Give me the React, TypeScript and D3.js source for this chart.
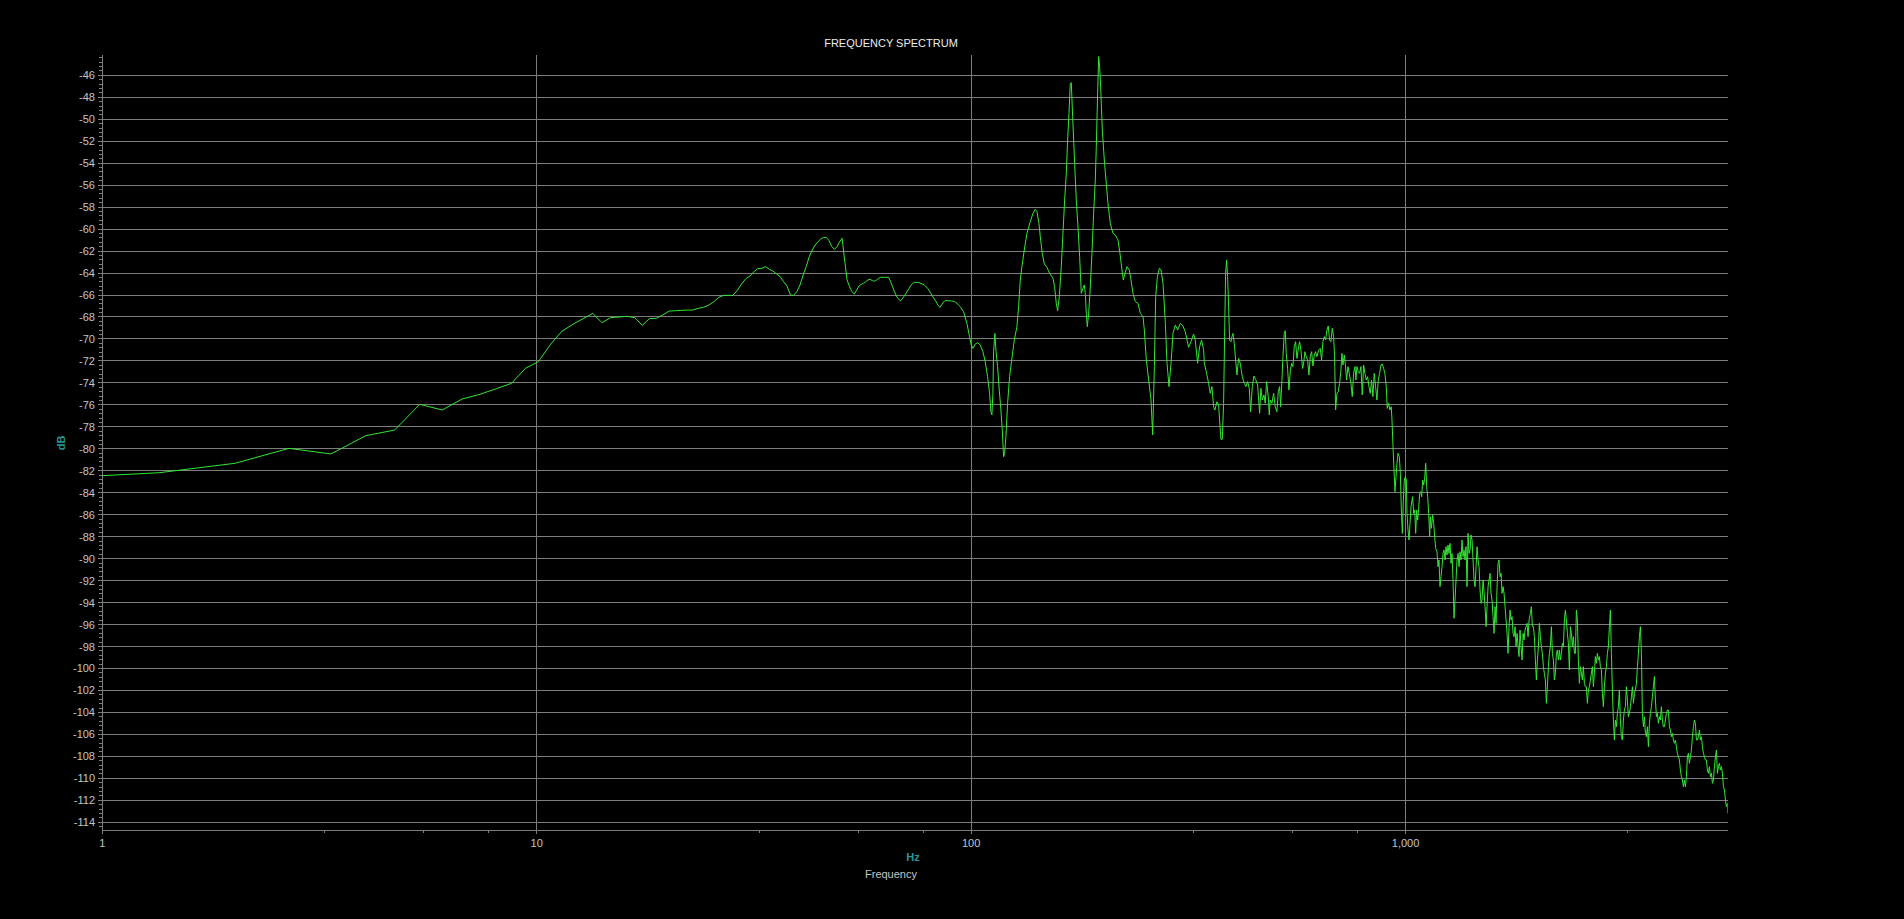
import React from "react";
import * as d3 from "d3";

// ---- Spectrum data (Hz, dB) ----
const lowHz = [
  0.67, 1.35, 2.02, 2.69, 3.36, 4.04, 4.71, 5.38, 6.06, 6.73,
  7.4, 8.07, 8.75, 9.42, 10.09, 10.77, 11.44, 12.11, 12.79, 13.46,
  14.13, 14.8, 15.48, 16.15, 16.82, 17.5, 18.17, 18.84, 19.51, 20.19,
  20.86, 21.53, 22.21, 22.88, 23.55, 24.22, 24.9, 25.57, 26.24, 26.92,
  27.59, 28.26, 28.93, 29.61, 30.28, 30.95, 31.63, 32.3, 32.97, 33.65,
  34.32, 34.99, 35.66, 36.34, 37.01, 37.68, 38.36, 39.03, 39.7, 40.37,
  41.05, 41.72, 42.39, 43.07, 43.74, 44.41, 45.08, 45.76, 46.43, 47.1,
  47.78, 48.45, 49.12, 49.79, 50.47, 51.14, 51.81, 52.49, 53.16, 53.83,
  54.5, 55.18, 55.85, 56.52, 57.2, 57.87, 58.54, 59.22, 59.89, 60.56,
  61.23, 61.91, 63.25, 64.6, 65.27, 65.94, 66.62, 67.29, 67.96, 68.64,
  69.31, 69.98, 70.65, 71.33, 72.0, 72.67, 73.35, 74.02, 75.36, 76.71,
  78.06, 79.4, 80.08, 80.75, 81.42, 82.09, 82.77, 83.44, 84.11, 84.79,
  85.46, 86.13, 86.8, 87.48, 88.82, 90.17, 91.51, 92.86, 93.53,
];
const lowDb = [
  -82.8, -82.18, -81.32, -79.96, -80.47, -78.81, -78.29, -75.95, -76.47, -75.47,
  -75.04, -74.53, -74.04, -72.67, -72.07, -70.46, -69.28, -68.67, -68.15, -67.67,
  -68.52, -68.06, -68.0, -67.94, -68.06, -68.76, -68.15, -68.12, -67.82, -67.46,
  -67.43, -67.4, -67.37, -67.37, -67.21, -67.12, -66.91, -66.61, -66.21, -66.03,
  -66.03, -66.03, -65.61, -65.0, -64.52, -64.27, -63.88, -63.6, -63.57, -63.42,
  -63.66, -63.82, -64.09, -64.33, -64.79, -65.18, -66.0, -66.03, -65.7, -65.09,
  -64.18, -63.42, -62.51, -61.9, -61.45, -61.15, -60.9, -60.75, -60.75, -61.06,
  -61.6, -61.84, -61.6, -61.15, -60.84, -62.81, -64.63, -65.24, -65.7, -65.91,
  -65.55, -65.18, -65.03, -64.94, -64.79, -64.63, -64.57, -64.69, -64.75, -64.63,
  -64.48, -64.39, -64.39, -64.39, -64.79, -65.24, -65.7, -66.09, -66.33, -66.52,
  -66.39, -66.15, -65.91, -65.64, -65.39, -65.12, -64.94, -64.85, -64.85, -64.94,
  -65.09, -65.39, -65.61, -65.85, -66.09, -66.3, -66.52, -66.76, -67.0, -67.12,
  -66.91, -66.7, -66.55, -66.49, -66.52, -66.55, -66.58, -66.76, -66.91,
];

const midHz = [
  94.39, 96.07, 97.78, 99.17, 100.05, 100.94, 102.2, 103.47, 104.94, 106.44,
  107.76, 109.1, 110.27, 111.05, 111.64, 112.23, 112.63, 113.43, 114.04, 115.05,
  116.08, 117.11, 117.94, 118.78, 119.41, 120.26, 121.33, 122.62, 124.15, 125.69,
  127.48, 128.61, 129.75, 130.91, 132.53, 134.42, 136.82, 138.77, 140.5, 141.75,
  143.26, 144.28, 145.82, 147.38, 149.47, 151.59, 154.3, 155.66, 157.05, 158.16,
  159.57, 161.27, 162.7, 164.15, 165.61, 166.78, 167.97, 169.16, 170.06, 171.27,
  173.08, 174.61, 176.17, 177.73, 179.31, 180.9, 182.18, 183.15, 184.13, 185.11,
  186.42, 187.74, 189.74, 191.42, 193.12, 194.15, 195.53, 196.57, 197.61, 198.66,
  200.42, 202.56, 204.36, 206.54, 209.11, 212.09, 214.73, 217.79, 220.12, 222.46,
  224.04, 226.03, 228.44, 231.29, 233.34, 235.83, 238.77, 242.17, 245.18, 248.68,
  250.45, 253.12, 256.27, 259.46, 261.76, 264.09, 265.97, 268.33, 271.19, 273.6,
  276.52, 279.96, 282.44, 285.46, 288.5, 291.58, 295.21, 298.88,
];
const midDb = [
  -67.06, -67.52, -68.58, -69.79, -70.55, -70.85, -70.46, -70.34, -70.55, -71.16,
  -72.07, -73.43, -74.95, -76.62, -76.92, -74.95, -71.16, -69.49, -71.01, -72.52,
  -74.65, -76.47, -78.29, -80.72, -80.41, -78.9, -75.86, -73.43, -71.76, -70.1,
  -68.88, -67.06, -64.63, -63.42, -61.9, -60.39, -59.32, -58.56, -58.2, -58.41,
  -59.48, -60.69, -62.21, -63.18, -63.48, -64.03, -64.48, -65.24, -66.76, -67.43,
  -66.15, -63.42, -60.39, -57.35, -54.92, -51.89, -49.46, -46.73, -46.67, -49.77,
  -54.01, -57.35, -59.78, -62.51, -65.85, -65.39, -65.09, -65.85, -67.67, -68.88,
  -67.67, -65.85, -62.21, -58.56, -55.53, -52.5, -47.64, -44.3, -45.21, -47.03,
  -50.98, -53.71, -55.53, -57.65, -59.48, -60.39, -60.54, -60.99, -62.21, -63.72,
  -64.63, -64.03, -63.42, -63.72, -64.63, -65.85, -66.61, -66.76, -67.67, -67.97,
  -69.19, -71.92, -73.74, -75.56, -78.74, -72.52, -66.15, -64.33, -63.57, -63.72,
  -64.94, -68.58, -72.22, -74.34, -72.22, -69.49, -68.73, -69.19,
];

const upperHz = [
  302.98, 307.29, 311.11, 316.67, 320.6, 325.17, 328.06, 332.14, 335.68, 339.26,
  342.88, 344.09, 347.75, 352.08, 355.2, 358.36, 361.53, 364.1, 367.98, 371.24,
  373.22, 375.87, 378.53, 381.22, 383.24, 385.28, 387.33, 389.39, 391.46, 393.54,
  396.33, 398.43, 400.56, 403.4, 406.26, 409.14, 412.77, 416.44, 420.87, 425.35,
  429.13, 432.93, 436.77, 439.87, 443.77, 447.7, 451.68, 456.49, 461.36, 464.63,
  467.92, 472.08, 475.42, 478.8, 483.04, 485.61, 488.19, 492.52, 496.89, 501.3,
  505.75, 509.33, 512.94, 515.67, 519.33, 522.09, 525.8, 528.59, 531.4, 535.17,
  538.96, 542.79, 546.64, 550.51, 554.42, 558.35, 562.31, 567.3, 570.31, 574.36,
  579.46, 582.54, 586.67, 590.83, 595.02, 599.24, 603.49, 607.77, 612.08, 616.42,
  620.79, 625.19, 630.74, 636.33, 640.85, 645.39, 649.97, 654.57, 659.22, 663.89,
  668.6, 673.34, 678.11, 682.92, 686.55, 690.2, 695.1, 700.03, 705.0, 710.0,
  713.77, 717.56, 722.65, 726.49, 731.64, 736.83, 742.06, 748.64, 753.95, 759.3,
  764.68, 768.75, 772.83, 778.31, 783.83, 789.39, 794.98, 800.62, 806.3, 812.01,
  817.77, 823.57, 829.41, 835.29, 841.21, 847.18, 853.18, 859.23, 865.33, 871.46,
  877.64, 883.86, 890.13, 896.44, 902.8, 907.59, 914.03, 920.51, 927.04,
];
const upperDb = [
  -68.58, -68.82, -69.34, -70.76, -70.25, -69.55, -70.1, -72.22, -70.7, -70.1,
  -71.01, -72.16, -72.98, -74.04, -74.95, -74.34, -76.17, -76.47, -75.71, -76.01,
  -77.38, -79.14, -79.14, -75.86, -69.79, -64.03, -62.81, -64.33, -67.06, -70.1,
  -70.25, -69.79, -69.49, -70.4, -71.92, -73.28, -71.77, -72.22, -73.43, -74.04,
  -74.34, -73.89, -74.5, -76.62, -74.34, -73.37, -73.68, -74.19, -76.77, -74.5,
  -75.56, -75.1, -75.86, -73.89, -75.25, -76.92, -75.56, -75.86, -74.95, -76.17,
  -76.62, -74.8, -74.34, -76.17, -73.74, -71.61, -69.49, -69.25, -71.31, -72.68,
  -74.65, -72.98, -72.22, -72.52, -70.7, -70.25, -71.77, -70.7, -70.25, -71.01,
  -72.68, -72.22, -71.16, -71.61, -71.92, -73.28, -71.61, -71.16, -72.46, -71.46,
  -71.16, -71.61, -71.01, -70.86, -71.92, -70.25, -69.79, -70.1, -69.19, -68.82,
  -70.1, -70.25, -69.03, -69.79, -71.61, -76.47, -74.95, -74.8, -74.04, -72.83,
  -71.31, -72.37, -71.46, -72.22, -73.74, -72.52, -73.13, -74.04, -75.25, -73.13,
  -72.52, -73.74, -72.52, -72.98, -73.13, -72.52, -75.1, -72.37, -73.13, -73.74,
  -73.43, -74.34, -74.95, -73.74, -75.25, -73.13, -74.34, -75.56, -73.74, -73.13,
  -72.37, -72.28, -72.68, -73.13, -74.34, -76.32, -75.86, -76.47, -76.17,
];

const highHzA = [
  930.7, 935.7, 942.3, 945.6, 950.6, 955.7, 960.8, 967.6, 972.8, 977.9,
  983.1, 988.4, 993.6, 998.9, 1004.2, 1007.8, 1013.1, 1018.5, 1023.9, 1029.4,
  1034.8, 1038.5, 1044.0, 1049.6, 1055.2, 1060.8, 1066.4, 1072.1, 1077.8, 1083.5,
  1089.3, 1095.1, 1100.9, 1106.8, 1112.7, 1118.6, 1124.5, 1130.5, 1136.5, 1140.5,
  1146.6, 1154.7, 1160.8, 1167.0, 1173.2, 1181.5, 1187.8, 1194.1, 1200.4, 1206.8,
  1213.2, 1219.7, 1226.2, 1232.7, 1239.3, 1245.8, 1252.5, 1259.2, 1265.9, 1272.6,
  1279.4, 1286.2, 1293.0, 1299.9, 1306.8, 1313.8, 1320.8, 1327.8, 1334.8, 1341.9,
  1349.1, 1356.3, 1363.5, 1370.7, 1378.0, 1385.3, 1392.7, 1400.1, 1407.6, 1415.0,
  1422.6, 1430.1, 1437.7, 1445.4, 1453.1, 1460.8, 1468.6, 1476.4, 1484.2, 1492.1,
  1500.0, 1508.0, 1516.0, 1524.1, 1532.2, 1540.3, 1548.5, 1556.8, 1565.0, 1573.4,
  1581.7, 1590.1, 1598.6, 1607.1, 1615.6, 1624.2, 1632.8, 1641.5, 1650.2, 1659.0,
  1667.8, 1676.7, 1685.6, 1694.6, 1703.6, 1712.6, 1721.7, 1730.9, 1740.1, 1749.3,
  1758.6, 1768.0, 1777.4, 1786.8, 1796.3, 1805.9, 1815.5, 1825.1, 1834.8, 1844.6,
  1854.4, 1864.3, 1874.2, 1884.1, 1894.1, 1904.2, 1914.3, 1924.5, 1938.0, 1948.3,
  1958.7, 1969.1, 1979.6, 1990.1,
];
const highDbA = [
  -77.38, -79.81, -82.54, -83.9, -82.54, -81.32, -80.41, -80.72, -82.23, -85.57,
  -87.7, -84.66, -82.84, -82.54, -82.84, -85.88, -87.39, -88.3, -86.79, -85.27,
  -84.66, -84.36, -85.88, -85.57, -87.7, -85.57, -86.48, -85.42, -84.06, -83.9,
  -84.36, -82.84, -83.3, -82.69, -81.32, -83.45, -84.36, -85.88, -88.0, -86.18,
  -87.24, -86.03, -86.79, -88.0, -89.06, -89.37, -90.73, -90.12, -92.55, -91.64,
  -90.73, -89.52, -89.21, -90.12, -88.91, -89.67, -88.76, -89.52, -88.61, -90.43,
  -89.52, -91.94, -95.43, -93.77, -91.94, -90.12, -89.52, -90.73, -89.37, -90.12,
  -88.3, -89.82, -89.21, -90.12, -88.91, -92.55, -87.7, -89.52, -89.21, -87.85,
  -88.3, -90.12, -91.94, -92.55, -90.73, -88.91, -90.12, -90.73, -92.85, -94.07,
  -93.77, -91.94, -93.01, -94.37, -96.19, -94.37, -92.55, -91.94, -91.34, -93.16,
  -93.77, -95.28, -96.8, -94.37, -95.89, -92.55, -90.43, -90.12, -91.64, -91.34,
  -93.16, -92.55, -93.16, -94.37, -95.59, -96.8, -98.62, -96.19, -94.68, -95.59,
  -95.28, -96.8, -97.1, -96.19, -98.01, -96.8, -98.01, -98.92, -96.5, -98.01,
  -99.23, -96.8, -97.41, -96.5, -96.19, -95.89, -97.1, -95.59, -94.98, -94.37,
  -96.19, -96.19, -97.1, -99.23,
];

const highHzB = [
  2000.7, 2011.3, 2022.0, 2032.7, 2043.5, 2054.4, 2065.3, 2076.3, 2087.3, 2098.4,
  2109.6, 2120.8, 2132.1, 2143.4, 2154.8, 2166.2, 2177.7, 2189.3, 2200.9, 2212.6,
  2224.4, 2236.2, 2248.1, 2260.1, 2272.1, 2284.2, 2296.3, 2308.5, 2320.8, 2333.1,
  2345.5, 2358.0, 2370.5, 2383.1, 2395.8, 2408.5, 2421.3, 2434.2, 2447.1, 2460.1,
  2473.2, 2486.4, 2499.6, 2512.9, 2526.2, 2539.6, 2553.1, 2566.7, 2580.3, 2594.0,
  2607.8, 2621.7, 2635.6, 2649.6, 2663.7, 2677.9, 2692.1, 2706.4, 2720.8, 2735.3,
  2749.8, 2764.4, 2779.1, 2793.9, 2808.7, 2823.6, 2838.6, 2853.7, 2868.9, 2884.1,
  2899.5, 2914.9, 2930.4, 2945.9, 2961.6, 2977.4, 2993.2, 3009.1, 3025.1, 3041.2,
  3057.4, 3073.6, 3089.9, 3106.3, 3122.8, 3139.4, 3156.1, 3172.9, 3189.8, 3206.7,
  3223.7, 3240.9, 3258.1, 3275.4, 3293.2, 3310.7, 3328.3, 3346.0, 3363.8, 3381.6,
  3399.6, 3417.7, 3435.8, 3454.1, 3472.4, 3490.9, 3509.4, 3528.1, 3546.8, 3565.7,
  3584.6, 3603.7, 3622.8, 3642.1, 3661.4, 3680.9, 3700.5, 3720.1, 3739.9, 3759.8,
  3779.8, 3799.8, 3820.0, 3840.3, 3860.7, 3881.2, 3901.9, 3922.6, 3943.4, 3964.4,
  3985.5, 4006.6, 4027.9, 4049.3, 4070.9, 4092.6, 4114.3, 4136.2, 4158.2, 4180.3,
  4202.5, 4224.8, 4247.3, 4269.8, 4292.5, 4315.3, 4338.3, 4361.3, 4384.5, 4407.8,
  4431.2, 4454.8, 4478.4, 4502.2, 4526.2, 4550.4, 4574.6, 4598.9, 4623.3, 4647.9,
  4672.6, 4697.4, 4722.4, 4747.5, 4772.7, 4798.1, 4823.6, 4849.2, 4875.0, 4900.9,
  4926.9, 4953.1, 4979.4, 5005.9, 5032.5, 5059.6, 5086.5, 5113.5, 5140.7, 5168.0,
  5195.5, 5223.1, 5250.9, 5278.8, 5306.8, 5335.0, 5363.4, 5391.9, 5420.6, 5449.4,
  5478.3, 5507.4, 5512.0,
];
const highDbB = [
  -101.05, -99.23, -98.01, -95.89, -97.1, -98.01, -98.62, -99.83, -100.44, -101.05,
  -103.17, -101.66, -99.83, -98.62, -98.01, -96.19, -98.62, -99.23, -101.05, -100.44,
  -98.62, -98.32, -99.23, -98.32, -99.23, -98.62, -97.71, -98.01, -95.59, -94.68,
  -95.59, -96.8, -97.71, -100.14, -96.19, -96.8, -98.01, -97.1, -98.62, -98.62,
  -94.68, -95.59, -99.23, -101.35, -99.83, -100.44, -101.05, -99.83, -101.35, -101.66,
  -101.66, -103.17, -101.96, -101.66, -101.05, -100.44, -99.83, -101.66, -100.44, -98.92,
  -99.53, -98.62, -99.23, -98.92, -99.83, -100.14, -102.26, -103.48, -101.66, -100.44,
  -99.83, -98.62, -98.01, -96.19, -94.68, -98.62, -101.96, -104.69, -106.51, -104.69,
  -105.3, -104.08, -103.48, -101.96, -104.69, -106.21, -106.51, -104.69, -103.78, -103.48,
  -101.66, -102.87, -104.39, -104.08, -103.48, -102.57, -101.66, -103.17, -102.26, -101.96,
  -101.35, -99.83, -98.62, -97.1, -96.19, -98.62, -104.08, -105.3, -104.39, -105.9,
  -106.21, -105.3, -107.12, -104.99, -104.08, -103.48, -102.57, -101.66, -100.74, -102.87,
  -104.39, -104.08, -104.99, -104.39, -104.69, -103.48, -104.69, -105.3, -105.3, -104.69,
  -104.08, -103.78, -103.78, -105.3, -105.6, -106.21, -105.9, -106.51, -106.81, -106.51,
  -107.12, -107.72, -108.03, -108.33, -109.24, -109.85, -110.15, -110.76, -110.15, -110.76,
  -109.85, -108.03, -107.72, -108.63, -108.03, -107.42, -106.21, -105.3, -104.69, -104.99,
  -106.51, -106.51, -106.21, -105.6, -106.51, -106.21, -107.12, -107.72, -108.03, -108.33,
  -108.33, -109.24, -109.54, -108.94, -109.85, -109.54, -110.45, -110.15, -108.94, -108.03,
  -107.42, -109.54, -108.94, -108.63, -109.24, -108.94, -109.54, -110.76, -111.06, -111.97,
  -112.58, -112.28, -113.19,
];

// ---- Axis ticks ----
const yTickValues = [
  -46, -48, -50, -52, -54, -56, -58, -60, -62, -64, -66, -68, -70, -72, -74, -76, -78, -80,
  -82, -84, -86, -88, -90, -92, -94, -96, -98, -100, -102, -104, -106, -108, -110, -112, -114,
];
const xTickValues = [1, 10, 100, 1000];
const xTickLabels = ["1", "10", "100", "1,000"];
const xMinorTickValues = [3.25, 5.5, 7.75, 32.5, 55, 77.5, 325, 550, 775, 3250];

const TITLE = "FREQUENCY SPECTRUM";
const X_UNIT = "Hz";
const X_NAME = "Frequency";
const Y_UNIT = "dB";

const W = 1904;
const H = 919;
const LEFT = 102.3;
const RIGHT = 1727.6;
const TOP = 55;
const BOTTOM = 830.3;

const GRID = "#7d7d7d";
const LABEL = "#c4c4c4";
const TEAL = "#2a9797";
const LINE = "#33e633";
const FONT = "'Liberation Sans', Arial, sans-serif";

export default function App() {
  const x = d3.scaleLog().domain([1, 5512.5]).range([LEFT, RIGHT]);
  const y = d3.scaleLinear().domain([-114.73, -44.15]).range([BOTTOM, TOP]);

  const points: [number, number][] = [
    ...d3.zip(lowHz, lowDb),
    ...d3.zip(midHz, midDb),
    ...d3.zip(upperHz, upperDb),
    ...d3.zip(highHzA, highDbA),
    ...d3.zip(highHzB, highDbB),
  ] as [number, number][];

  const line = d3
    .line<[number, number]>()
    .x((d) => x(d[0]))
    .y((d) => y(d[1]));

  const yMinor = d3.range(-114.4, -44.1, 0.4);

  return (
    <div style={{ position: "fixed", left: 0, top: 0, width: W, height: H, background: "#000" }}>
      <svg width={W} height={H} style={{ display: "block", background: "#000" }}>
        <defs>
          <clipPath id="plotClip">
            <rect x={LEFT} y={TOP} width={RIGHT - LEFT} height={BOTTOM - TOP} />
          </clipPath>
        </defs>

        {/* horizontal grid */}
        <g shapeRendering="crispEdges" stroke={GRID} strokeWidth={1}>
          {yTickValues.map((v) => (
            <line key={"hg" + v} x1={LEFT - 4} x2={RIGHT} y1={y(v)} y2={y(v)} />
          ))}
          {yMinor.map((v, i) => (
            <line key={"ym" + i} x1={LEFT - 3} x2={LEFT} y1={y(v)} y2={y(v)} />
          ))}
          {/* x axis line */}
          <line x1={LEFT} x2={RIGHT} y1={BOTTOM} y2={BOTTOM} />
          {/* y axis line */}
          <line x1={LEFT} x2={LEFT} y1={TOP} y2={BOTTOM + 4} />
          {/* vertical grid */}
          {xTickValues.map((v) => (
            <line key={"vg" + v} x1={x(v)} x2={x(v)} y1={TOP} y2={BOTTOM + 4} />
          ))}
          {xMinorTickValues.map((v) => (
            <line key={"xm" + v} x1={x(v)} x2={x(v)} y1={BOTTOM} y2={BOTTOM + 3} />
          ))}
        </g>

        {/* y tick labels */}
        <g fontFamily={FONT} fontSize={11} fill={LABEL} textAnchor="end">
          {yTickValues.map((v) => (
            <text key={"yl" + v} x={95} y={y(v) + 4}>
              {v}
            </text>
          ))}
        </g>

        {/* x tick labels */}
        <g fontFamily={FONT} fontSize={11} fill={LABEL} textAnchor="middle">
          {xTickValues.map((v, i) => (
            <text key={"xl" + v} x={x(v)} y={847}>
              {xTickLabels[i]}
            </text>
          ))}
        </g>

        {/* spectrum */}
        <path
          d={line(points) || ""}
          fill="none"
          stroke={LINE}
          strokeWidth={1}
          strokeLinejoin="round"
          clipPath="url(#plotClip)"
        />

        {/* titles */}
        <text x={891} y={47} fontFamily={FONT} fontSize={11} fill="#ececec" textAnchor="middle">
          {TITLE}
        </text>
        <text x={913} y={861} fontFamily={FONT} fontSize={11} fontWeight="bold" fill={TEAL} textAnchor="middle">
          {X_UNIT}
        </text>
        <text x={891} y={878} fontFamily={FONT} fontSize={11} fill={LABEL} textAnchor="middle">
          {X_NAME}
        </text>
        <text
          x={0}
          y={0}
          transform="translate(65,443) rotate(-90)"
          fontFamily={FONT}
          fontSize={11}
          fontWeight="bold"
          fill={TEAL}
          textAnchor="middle"
        >
          {Y_UNIT}
        </text>
      </svg>
    </div>
  );
}
